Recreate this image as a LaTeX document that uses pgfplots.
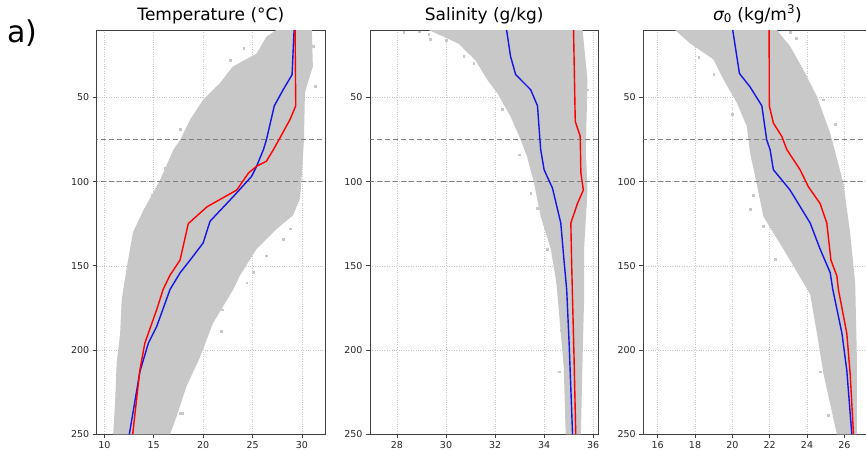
\documentclass[border=0pt]{standalone}
\usepackage{pgfplots}
\pgfplotsset{compat=1.18}
\usepackage{fontspec}
\setmainfont{DejaVu Sans}
\definecolor{cloud}{RGB}{200,200,200}
\definecolor{refline}{RGB}{128,128,128}
\definecolor{myred}{RGB}{255,0,0}
\definecolor{myblue}{RGB}{20,20,230}
\pgfplotsset{
  panel/.style={
    scale only axis, width=228.3pt, height=404.3pt, anchor=south west,
    y dir=reverse, ymin=10, ymax=250, ytick={50,100,150,200,250},
    grid=major, grid style={dotted, black!22, line width=0.6pt},
    axis line style={black!75, line width=0.8pt},
    tick style={black!75, line width=0.8pt},
    tick align=outside, major tick length=4pt, tick pos=left,
    tick label style={font=\fontsize{9.5}{11}\selectfont, text=black!85},
    /pgf/number format/assume math mode=true,
    title style={font=\fontsize{17}{20}\selectfont, at={(0.5,1)}, anchor=base, yshift=4pt},
  },
  curve/.style={line width=1.4pt},
  dots/.style={only marks, mark=square*, mark size=0.9pt, cloud, mark options={draw=none, fill=cloud}},
  hline/.style={refline, line width=1pt, dash pattern=on 5pt off 3pt},
}
\begin{document}
\begin{tikzpicture}[x=1pt,y=1pt]
\path[use as bounding box] (0,0) rectangle (866,451);
\clip (0,0) rectangle (866,451);
\node[anchor=base west, font=\fontsize{30}{34}\selectfont, inner sep=0pt] at (7,409) {a)};
% ---------------- Temperature ----------------
\begin{axis}[panel, at={(96.7pt,16.7pt)}, xmin=9.23, xmax=32.33, xtick={10,15,20,25,30},
  title={Temperature (°C)}]
\addplot[fill=cloud, draw=none] coordinates {
 (27.4,10) (26.4,14) (25.4,24) (23.0,31.7) (21.7,41.5) (20.0,51.4) (18.7,63) (17.7,75) (17.0,81)
 (15.6,99.5) (14.0,116.5) (12.9,130) (12.3,150) (11.76,170) (11.6,190) (11.25,207.6) (11.1,229.6) (10.9,250)
 (16.65,250) (17.3,239.6) (18.3,221.7) (19.7,204) (21.0,184) (23.05,164) (23.7,156) (25.4,140)
 (27.45,128) (29.1,120) (29.8,110) (30.0,95) (30.2,75) (30.3,47) (31.1,31.7) (31.0,10)
} -- cycle;
\addplot[dots] coordinates {
 (22.7,28) (24.1,21) (26.4,17.4) (27.1,14) (21.0,51.4) (19.7,57) (17.66,69) (31.15,19.6) (31.3,43.5)
 (28.8,128) (28.1,134) (26.4,144) (25.1,154) (24.4,160) (17.66,237.7) (17.9,237.7) (21.9,176) (21.8,189)
 (23.5,40) (20.6,50) (16.2,92) (14.8,108)
};
\addplot[hline] coordinates {(0,75) (40,75)};
\addplot[hline] coordinates {(0,100) (40,100)};
\addplot[myblue, curve] coordinates {
 (29.2,10) (29.0,36.5) (28.1,45.4) (27.2,55) (26.4,75.2) (26.1,81) (25.4,91) (24.9,96.9)
 (23.06,108.8) (20.7,123.5) (20.0,136.4) (18.85,145.3) (17.66,154.2) (16.65,164)
 (15.3,186) (14.45,196) (13.6,212.8) (12.53,250)
};
\addplot[myred, curve] coordinates {
 (29.3,10) (29.37,55) (28.8,63) (27.7,74.8) (27.1,81.1) (26.4,87.9) (25.4,90.9) (24.6,94.8)
 (23.4,105) (20.4,114.9) (18.5,124.9) (17.66,146.6) (16.65,155.5) (15.95,164)
 (15.3,176) (14.1,195.9) (13.6,211.8) (12.87,250)
};
\end{axis}
% ---------------- Salinity ----------------
\begin{axis}[panel, at={(370pt,16.7pt)}, xmin=26.9, xmax=36.21, xtick={28,30,32,34,36},
  title={Salinity (g/kg)}]
\addplot[fill=cloud, draw=none] coordinates {
 (29.3,10) (30.5,18) (31.2,28) (31.68,39.5) (32.09,47.4) (32.63,61.3) (33.04,75) (33.3,85)
 (33.59,101) (33.86,120.7) (34.27,140) (34.5,160) (34.65,185) (34.8,210) (34.88,250)
 (35.5,250) (35.57,204) (35.63,170) (35.63,140) (35.77,105) (35.7,81) (35.77,40) (35.57,10)
} -- cycle;
\addplot[dots] coordinates {
 (28.27,11.4) (29.36,15.4) (29.29,12.4) (30.72,25.6) (31.68,32.5) (31.13,29.6) (35.77,45.4)
 (33.45,107) (33.73,116) (34.13,140) (34.54,146.6) (34.54,160) (34.68,188) (34.6,212.8)
 (34.95,238.5) (28.9,11) (30.0,16) (32.3,57) (33.0,84) (34.45,150)
};
\addplot[hline] coordinates {(20,75) (40,75)};
\addplot[hline] coordinates {(20,100) (40,100)};
\addplot[myblue, curve] coordinates {
 (32.47,10) (32.63,25.6) (32.84,36.5) (33.45,45.4) (33.73,55) (33.83,75.2) (33.86,81)
 (34.0,93) (34.34,103.8) (34.68,124.6) (34.81,146.6) (34.92,164) (35.02,196) (35.16,250)
};
\addplot[myred, curve] coordinates {
 (35.2,10) (35.27,64.2) (35.47,73) (35.5,95) (35.6,105) (35.36,113) (35.09,124.6)
 (35.12,146.6) (35.16,170) (35.22,204) (35.29,250)
};
\end{axis}
% ---------------- Sigma0 ----------------
\begin{axis}[panel, at={(643.3pt,16.7pt)}, xmin=15.23, xmax=27.46, xtick={16,18,20,22,24,26},
  title={{\itshape σ}\textsubscript{0} (kg/m\textsuperscript{3})}]
\addplot[fill=cloud, draw=none] coordinates {
 (16.93,10) (17.73,17.9) (18.98,27.4) (19.52,39.3) (20.24,53.2) (20.77,67) (20.95,83)
 (21.3,101) (21.66,120.7) (22.73,140) (23.8,160) (24.17,167) (24.53,190) (24.88,214) (25.6,250)
 (26.67,250) (26.67,204) (26.58,160) (26.31,130.6) (25.95,101) (25.5,82) (25.24,71.3)
 (24.53,49.4) (23.8,33.5) (23.09,19.6) (22.38,10)
} -- cycle;
\addplot[dots] coordinates {
 (20.95,116.5) (21.66,126.5) (22.92,140) (23.09,11.4) (24.88,51.4) (24.7,212.8) (25.15,238.5)
 (18.2,26) (19.0,36) (20.0,60) (21.1,108) (22.3,146) (23.4,15) (25.5,66)
};
\addplot[hline] coordinates {(10,75) (30,75)};
\addplot[hline] coordinates {(10,100) (30,100)};
\addplot[myblue, curve] coordinates {
 (20.02,10) (20.38,35.8) (20.95,43.8) (21.58,55) (21.84,75.2) (22.02,81) (22.2,93)
 (22.65,99) (23.09,105) (24.17,124.6) (24.7,140) (25.24,154) (25.38,164)
 (25.87,190) (26.13,212) (26.4,250)
};
\addplot[myred, curve] coordinates {
 (21.97,10) (21.98,55) (22.2,65.3) (22.65,73.2) (22.92,81) (23.63,93) (24.07,103)
 (24.7,113) (25.06,124.6) (25.28,146.6) (25.6,156) (25.68,164) (26.13,190) (26.31,214) (26.49,250)
};
\end{axis}
\end{tikzpicture}
\end{document}
